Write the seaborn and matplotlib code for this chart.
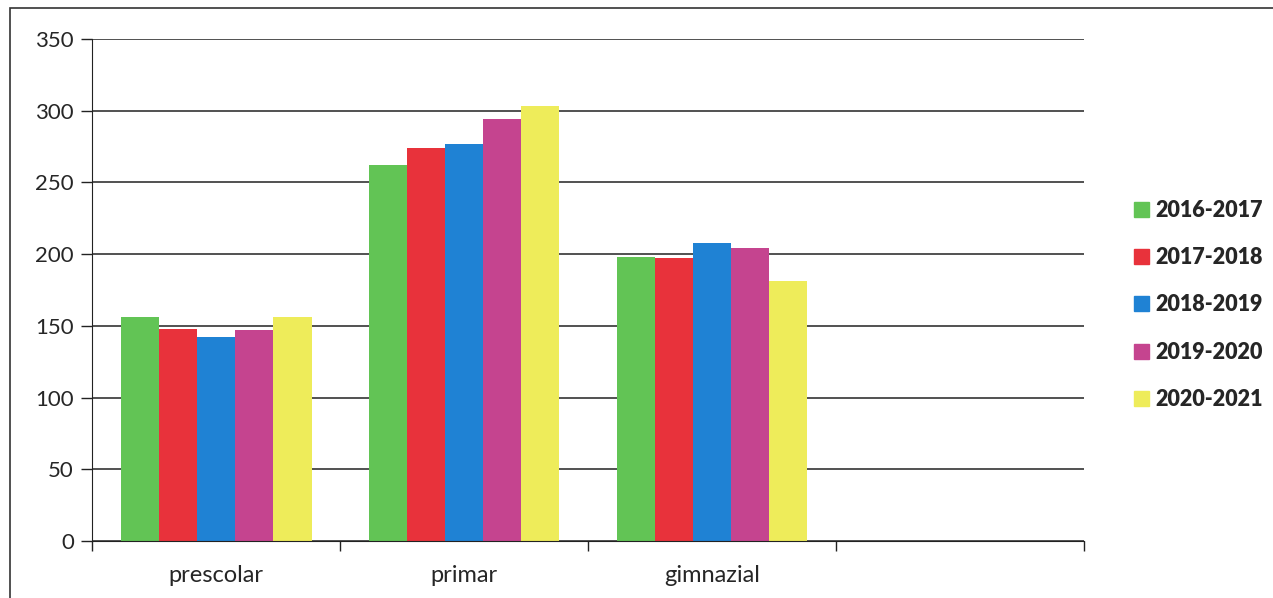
import pandas as pd
import seaborn as sns
import matplotlib.pyplot as plt
from matplotlib.patches import Rectangle

# Data
categories = ["prescolar", "primar", "gimnazial"]
years = ["2016-2017", "2017-2018", "2018-2019", "2019-2020", "2020-2021"]
values_2016 = [156, 262, 198]
values_2017 = [148, 274, 197]
values_2018 = [142, 277, 208]
values_2019 = [147, 294, 204]
values_2020 = [156, 303, 181]
colors = ["#62c455", "#e8323b", "#1f82d4", "#c5448f", "#eeec5a"]

# 4th slot is empty in the original
slots = categories + [" "]

series = [values_2016, values_2017, values_2018, values_2019, values_2020]
rows = []
for year, vals in zip(years, series):
    for cat, v in zip(categories, vals):
        rows.append({"nivel": cat, "an": year, "elevi": v})
df = pd.DataFrame(rows)

sns.set_style("white")
plt.rcParams['font.family'] = ['Lato', 'DejaVu Sans']

fig = plt.figure(figsize=(12.73, 5.98), dpi=100)
ax = fig.add_axes([0.0723, 0.0953, 0.7792, 0.8395])

sns.barplot(data=df, x="nivel", y="elevi", hue="an", order=slots,
            hue_order=years, palette=colors, width=0.77, linewidth=0,
            saturation=1, ax=ax, legend=False)

ax.set_ylim(0, 350)
ax.set_xlim(-0.5, 3.5)
ax.set_yticks(range(0, 351, 50))
ax.yaxis.grid(True, color="#222222", linewidth=1.1)
ax.set_axisbelow(True)
ax.set_xlabel("")
ax.set_ylabel("")

for side in ["top", "right"]:
    ax.spines[side].set_visible(False)
ax.spines["left"].set_color("#222222")
ax.spines["bottom"].set_color("#222222")

ax.tick_params(axis="y", length=8, width=1, color="#222222", labelsize=16, pad=5, left=True)
ax.set_xticks(range(4))
ax.set_xticklabels(slots)
ax.set_xticks([-0.5, 0.5, 1.5, 2.5, 3.5], minor=True)
ax.tick_params(axis="x", which="major", length=0, labelsize=17, pad=17)
ax.tick_params(axis="x", which="minor", length=7, width=1, color="#222222", bottom=True)

handles = [Rectangle((0, 0), 1, 1, color=c) for c in colors]
leg = fig.legend(handles, years, loc="center left", bbox_to_anchor=(0.8825, 0.49),
                 frameon=False, handlelength=0.7, handleheight=0.7,
                 handletextpad=0.3, labelspacing=1.22, borderpad=0,
                 prop={"family": "Lato", "weight": "heavy", "size": 15.5})

# outer chart frame
fig.patches.append(Rectangle((10 / 1273, -0.1), 1.2, 1 - 8 / 598 + 0.1,
                             transform=fig.transFigure, fill=False,
                             edgecolor="#333333", linewidth=1.2))

fig.savefig("out.png", dpi=100)
